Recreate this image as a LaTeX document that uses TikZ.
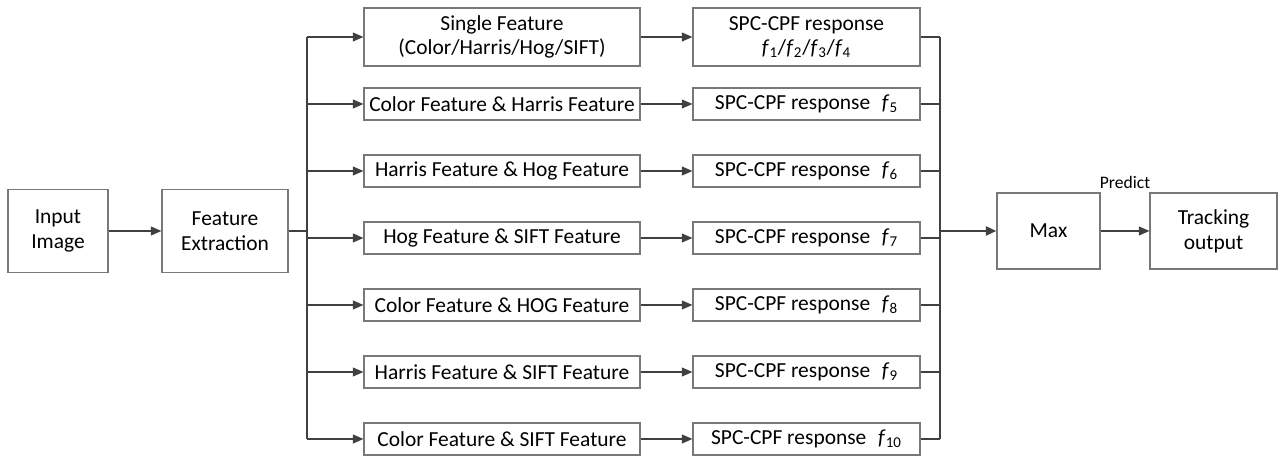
\documentclass[tikz,border=0pt]{standalone}
\usepackage{fontspec}
\setmainfont{Carlito}
\usetikzlibrary{arrows.meta}
\definecolor{linegray}{RGB}{64,64,64}
\definecolor{boxgray}{RGB}{120,120,120}
\newcommand{\fsub}[1]{\textit{f}\textsubscript{#1}}
\newcommand{\resp}[1]{SPC-CPF response\hspace{0.55em}\fsub{#1}}

\begin{document}
\begin{tikzpicture}[
    box/.style={draw=boxgray, line width=0.6pt, inner sep=0pt, align=center, font=\fontsize{12.2}{14}\selectfont},
    wide/.style={box, minimum width=5.52cm, minimum height=0.64cm},
    resbox/.style={box, minimum width=4.54cm, minimum height=0.64cm},
    arr/.style={draw=linegray, line width=0.8pt, -{Triangle[length=6pt, width=5pt]}},
    wire/.style={draw=linegray, line width=0.8pt}
]
    \useasboundingbox (0,0) rectangle (25.6,9.16);

    % Draw the main boxes
    \node[box, minimum width=2cm, minimum height=1.66cm] (input) at (1.16,4.54) {Input\\Image};
    \node[box, minimum width=2.52cm, minimum height=1.66cm] (extract) at (4.5,4.54) {Feature\\Extraction};
    \node[box, minimum width=2.06cm, minimum height=1.52cm] (max) at (20.97,4.54) {Max};
    \node[box, minimum width=2.54cm, minimum height=1.52cm] (track) at (24.27,4.54) {Tracking\\output};

    % Feature combinations
    \node[wide, minimum height=1.16cm] (c1) at (10.04,8.42) {Single Feature\\(Color/Harris/Hog/SIFT)};
    \node[wide] (c2) at (10.04,7.08) {Color Feature \& Harris Feature};
    \node[wide] (c3) at (10.04,5.74) {Harris Feature \& Hog Feature};
    \node[wide] (c4) at (10.04,4.40) {Hog Feature \& SIFT Feature};
    \node[wide] (c5) at (10.04,3.06) {Color Feature \& HOG Feature};
    \node[wide] (c6) at (10.04,1.72) {Harris Feature \& SIFT Feature};
    \node[wide] (c7) at (10.04,0.38) {Color Feature \& SIFT Feature};

    % Responses
    \node[resbox, minimum height=1.16cm] (r1) at (16.13,8.42) {SPC-CPF response\\\fsub{1}/\fsub{2}/\fsub{3}/\fsub{4}};
    \node[resbox] (r2) at (16.13,7.08) {\resp{5}};
    \node[resbox] (r3) at (16.13,5.74) {\resp{6}};
    \node[resbox] (r4) at (16.13,4.40) {\resp{7}};
    \node[resbox] (r5) at (16.13,3.06) {\resp{8}};
    \node[resbox] (r6) at (16.13,1.72) {\resp{9}};
    \node[resbox] (r7) at (16.13,0.38) {\resp{10}};

    % Buses
    \coordinate (split) at (6.14,4.54);
    \coordinate (join) at (18.8,4.54);
    \draw[wire] (split |- c1) -- (split |- c7);
    \draw[wire] (join |- r1) -- (join |- r7);

    % Connectors
    \draw[arr] (input) -- (extract);
    \draw[wire, line width=1.6pt] (extract) -- (split);
    \foreach \i in {1,...,7} {
        \draw[arr] (split |- c\i) -- (c\i);
        \draw[arr] (c\i) -- (r\i);
        \draw[wire] (r\i) -- (join |- r\i);
    }
    \draw[arr, line width=1.6pt] (join) -- (max);
    \draw[arr] (max) -- (track) node[midway, above=0.72cm, font=\fontsize{10}{12}\selectfont] {Predict};
\end{tikzpicture}
\end{document}
